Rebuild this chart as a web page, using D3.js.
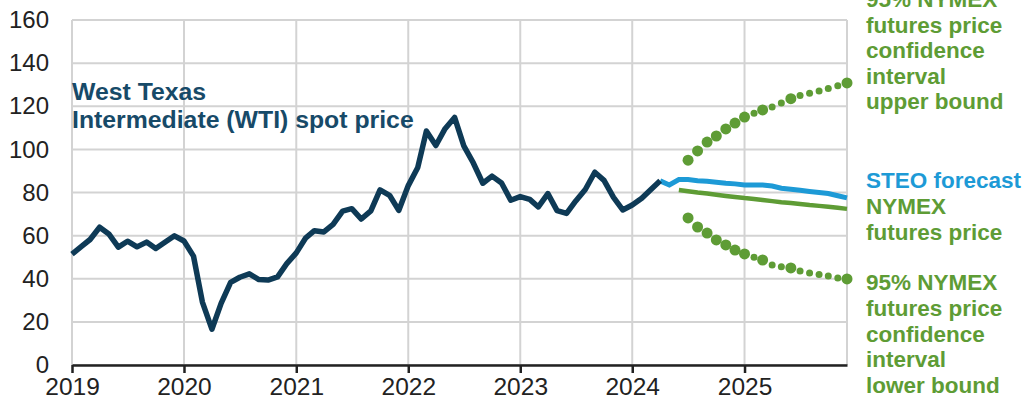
<!DOCTYPE html>
<html>
<head>
<meta charset="utf-8">
<script src="https://cdn.jsdelivr.net/npm/d3@7"></script>
<style>
  body { margin: 0; background: #fff; }
  svg { display: block; font-family: "Liberation Sans", Arial, sans-serif; }
</style>
</head>
<body>
<div id="chart"></div>
<script>
// WTI spot price with STEO forecast and NYMEX futures bands

// monthly WTI spot, Jan 2019 - Apr 2024
const wtiStart = [2019, 0];
const wtiValues = [
    51.4, 55.0, 58.2, 63.9, 60.8, 54.7, 57.4, 54.8, 57.0, 54.0, 57.0, 59.9,
    57.5, 50.5, 29.2, 16.6, 28.6, 38.3, 40.7, 42.3, 39.6, 39.4, 40.9, 47.0,
    52.0, 59.0, 62.3, 61.7, 65.2, 71.4, 72.5, 67.7, 71.5, 81.2, 78.7, 71.7,
    83.2, 91.6, 108.5, 101.8, 109.6, 114.8, 101.6, 93.7, 84.3, 87.6, 84.4, 76.4,
    78.1, 76.8, 73.3, 79.5, 71.6, 70.3, 76.1, 81.4, 89.4, 85.6, 77.7, 71.9,
    74.2, 77.3, 81.3, 85.4
];

// STEO forecast, Apr 2024 - Dec 2025
const steoStart = [2024, 3];
const steoValues = [
    85.4, 83.5, 86.0, 86.0, 85.5, 85.2, 84.8, 84.3, 84.0,
    83.5, 83.5, 83.5, 83.0, 82.0, 81.5, 81.0, 80.5, 80.0, 79.5, 78.5, 77.5
];

// NYMEX futures price, Jun 2024 - Dec 2025
const nymexStart = [2024, 5];
const nymexValues = [
    81.2, 80.6, 80.0, 79.5, 79.0, 78.4, 77.9,
    77.4, 77.0, 76.5, 76.0, 75.5, 75.1, 74.7, 74.2, 73.8, 73.4, 72.9, 72.4
];

// 95% confidence interval bounds, Jul 2024 - Dec 2025
const bandStart = [2024, 6];
const upperValues = [
    95.0, 99.3, 103.4, 106.2, 109.5, 112.2,
    115.0, 116.8, 118.3, 119.7, 121.5, 123.5, 125.0, 126.0, 127.1, 128.2, 129.5, 130.8
];
const lowerValues = [
    68.2, 64.0, 61.2, 58.0, 55.7, 53.3,
    51.5, 50.0, 48.7, 46.4, 45.6, 45.0, 43.6, 42.7, 42.0, 41.3, 40.4, 39.9
];

const yearTicks = [2019, 2020, 2021, 2022, 2023, 2024, 2025];
const yTicks = [0, 20, 40, 60, 80, 100, 120, 140, 160];

const wtiLabel = ["West Texas", "Intermediate (WTI) spot price"];
const upperLabel = ["95% NYMEX", "futures price", "confidence", "interval", "upper bound"];
const steoLabel = ["STEO forecast"];
const nymexLabel = ["NYMEX", "futures price"];
const lowerLabel = ["95% NYMEX", "futures price", "confidence", "interval", "lower bound"];

const W = 1034, H = 411;
const plot = { left: 72, right: 847, top: 20, bottom: 365 };

const navy = "#0e3a56";
const blue = "#1d9ad6";
const green = "#5e9c35";

function toSeries(start, values) {
    return values.map((v, i) => ({ date: new Date(start[0], start[1] + i, 1), value: v }));
}

const wti = toSeries(wtiStart, wtiValues);
const steo = toSeries(steoStart, steoValues);
const nymex = toSeries(nymexStart, nymexValues);
const upper = toSeries(bandStart, upperValues);
const lower = toSeries(bandStart, lowerValues);

const svg = d3.select("#chart")
    .append("svg")
    .attr("width", W)
    .attr("height", H);

const x = d3.scaleTime()
    .domain([new Date(2019, 0, 1), new Date(2025, 11, 1)])
    .range([plot.left, plot.right]);

const y = d3.scaleLinear()
    .domain([0, 160])
    .range([plot.bottom, plot.top]);

// gridlines
svg.append("g")
    .selectAll("line")
    .data(yTicks)
    .enter()
    .append("line")
    .attr("x1", plot.left)
    .attr("x2", plot.right)
    .attr("y1", d => y(d))
    .attr("y2", d => y(d))
    .attr("stroke", "#d3d3d3")
    .attr("stroke-width", 2);

svg.append("g")
    .selectAll("line")
    .data(yearTicks)
    .enter()
    .append("line")
    .attr("x1", d => x(new Date(d, 0, 1)))
    .attr("x2", d => x(new Date(d, 0, 1)))
    .attr("y1", plot.top)
    .attr("y2", plot.bottom)
    .attr("stroke", "#d3d3d3")
    .attr("stroke-width", 2);

// right border of plot area
svg.append("line")
    .attr("x1", plot.right)
    .attr("x2", plot.right)
    .attr("y1", plot.top)
    .attr("y2", plot.bottom)
    .attr("stroke", "#d3d3d3")
    .attr("stroke-width", 2);

// y axis (labels only)
const yAxis = svg.append("g")
    .attr("transform", "translate(" + plot.left + ",0)")
    .call(d3.axisLeft(y).tickValues(yTicks).tickSize(0).tickPadding(23));
yAxis.select(".domain").remove();
yAxis.selectAll("text")
    .attr("font-size", 24)
    .attr("font-family", "Liberation Sans, Arial, sans-serif")
    .attr("fill", "#222");

// x axis
const xAxis = svg.append("g")
    .attr("transform", "translate(0," + plot.bottom + ")")
    .call(d3.axisBottom(x)
        .tickValues(yearTicks.map(d => new Date(d, 0, 1)))
        .tickFormat(d3.timeFormat("%Y"))
        .tickSize(8)
        .tickSizeOuter(0)
        .tickPadding(5));
xAxis.select(".domain")
    .attr("stroke", "#222")
    .attr("stroke-width", 2.5);
xAxis.selectAll(".tick line")
    .attr("stroke", "#222")
    .attr("stroke-width", 2.5);
xAxis.selectAll("text")
    .attr("font-size", 24.5)
    .attr("font-family", "Liberation Sans, Arial, sans-serif")
    .attr("fill", "#222");

const line = d3.line()
    .x(d => x(d.date))
    .y(d => y(d.value));

svg.append("path")
    .datum(nymex)
    .attr("d", line)
    .attr("fill", "none")
    .attr("stroke", green)
    .attr("stroke-width", 4.5);

svg.append("path")
    .datum(steo)
    .attr("d", line)
    .attr("fill", "none")
    .attr("stroke", blue)
    .attr("stroke-width", 5);

svg.append("path")
    .datum(wti)
    .attr("d", line)
    .attr("fill", "none")
    .attr("stroke", navy)
    .attr("stroke-width", 5.5)
    .attr("stroke-linejoin", "round");

// confidence bounds as dots, dense ones first then mixed sizes
const bigDot = (i, n) => i < 7 || i === 8 || i === 11 || i === n - 1;

[upper, lower].forEach(series => {
    svg.append("g")
        .selectAll("circle")
        .data(series)
        .enter()
        .append("circle")
        .attr("cx", d => x(d.date))
        .attr("cy", d => y(d.value))
        .attr("r", (d, i) => bigDot(i, series.length) ? 5.5 : 3.5)
        .attr("fill", green);
});

// text labels
function addLabel(lines, xPos, baselines, color, size) {
    svg.append("g")
        .selectAll("text")
        .data(lines)
        .enter()
        .append("text")
        .attr("x", xPos)
        .attr("y", (d, i) => baselines[i])
        .attr("font-size", size)
        .attr("font-weight", "bold")
        .attr("fill", color)
        .text(d => d);
}

addLabel(wtiLabel, 72, [100, 128], "#174a68", 24.8);
addLabel(upperLabel, 866, [7, 33, 58, 84, 109], green, 22.5);
addLabel(steoLabel, 866, [188], blue, 22.5);
addLabel(nymexLabel, 866, [214, 240], green, 22.5);
addLabel(lowerLabel, 866, [290, 316, 342, 367, 393], green, 22.5);
</script>
</body>
</html>
